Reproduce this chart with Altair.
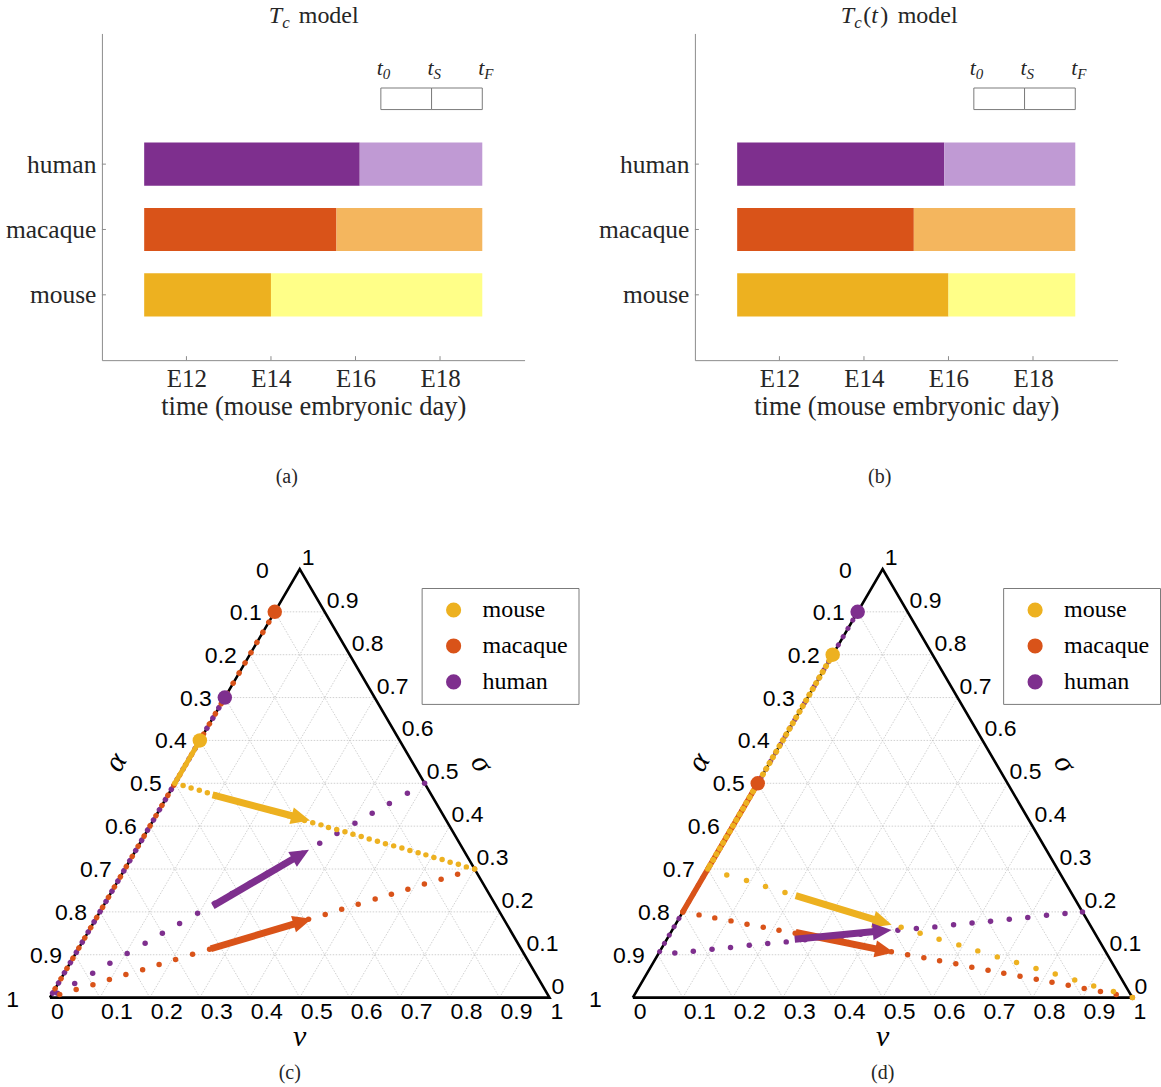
import altair as alt
import pandas as pd

SERIF = "Liberation Serif"
SANS = "Liberation Sans"
INK = "#262626"
AXIS_GREY = "#8c8c8c"
GRID_GREY = "#c4c4c4"

# ---------------- switch timing (panels a, b) ----------------
SPECIES = ["mouse", "macaque", "human"]
ROWS = [1, 2, 3]
DARK = ["#EDB120", "#D95319", "#7E2F8E"]
LIGHT = ["#FFFF88", "#F4B65E", "#C09AD4"]
T_START = 11.0
T_END = 19.0
SWITCH_TC = [14.0, 15.55, 16.1]
SWITCH_TCT = [16.0, 15.18, 15.9]
DAY_TICKS = [12, 14, 16, 18]
KEY_EDGES = [16.6, 17.8, 19.0]
KEY_SUBS = ["0", "S", "F"]

# ---------------- ternary trajectories (panels c, d) ----------------
# every point is (nu, sigma); alpha = 1 - nu - sigma
TRI_TICKS = [0, 0.1, 0.2, 0.3, 0.4, 0.5, 0.6, 0.7, 0.8, 0.9, 1]
TRI_LABELS = ["0", "0.1", "0.2", "0.3", "0.4", "0.5", "0.6", "0.7", "0.8", "0.9", "1"]
GRID_TICKS = [0.1, 0.2, 0.3, 0.4, 0.5, 0.6, 0.7, 0.8, 0.9]

# initial sigma (on the nu = 0 edge) and sigma where each path leaves that edge
C_START_SIGMA = [0.6, 0.9, 0.7]
C_TURN_SIGMA = [0.5, 0.0, 0.0]
D_START_SIGMA = [0.8, 0.5, 0.9]
D_TURN_SIGMA = [0.3, 0.2, 0.1]

C_MOUSE_NU = [0.000, 0.019, 0.038, 0.057, 0.076, 0.095, 0.114, 0.132, 0.151, 0.170,
              0.189, 0.208, 0.227, 0.246, 0.265, 0.284, 0.303, 0.322, 0.341, 0.359,
              0.378, 0.397, 0.416, 0.435, 0.454, 0.473, 0.492, 0.511, 0.530, 0.549,
              0.568, 0.586, 0.605, 0.624, 0.643, 0.662, 0.681, 0.700]
C_MOUSE_SIGMA = [0.500, 0.495, 0.489, 0.484, 0.478, 0.473, 0.467, 0.462, 0.457, 0.451,
                 0.446, 0.441, 0.435, 0.430, 0.424, 0.419, 0.413, 0.408, 0.403, 0.397,
                 0.392, 0.387, 0.381, 0.376, 0.370, 0.365, 0.359, 0.354, 0.349, 0.343,
                 0.338, 0.333, 0.327, 0.322, 0.316, 0.311, 0.305, 0.300]
C_MACAQUE_NU = [0.016, 0.043, 0.071, 0.098, 0.125, 0.153, 0.180, 0.207, 0.235, 0.263,
                0.290, 0.317, 0.344, 0.372, 0.399, 0.426, 0.454, 0.481, 0.508, 0.536,
                0.563, 0.590, 0.617, 0.645, 0.672, 0.700]
C_MACAQUE_SIGMA = [0.007, 0.019, 0.030, 0.042, 0.054, 0.065, 0.077, 0.089, 0.101, 0.113,
                   0.124, 0.136, 0.148, 0.159, 0.171, 0.183, 0.194, 0.206, 0.218, 0.230,
                   0.241, 0.253, 0.265, 0.276, 0.288, 0.300]
C_HUMAN_NU = [0.010, 0.033, 0.057, 0.080, 0.103, 0.127, 0.150, 0.173, 0.197, 0.220, 0.243,
              0.267, 0.290, 0.313, 0.337, 0.360, 0.383, 0.407, 0.430, 0.453, 0.477, 0.500]
C_HUMAN_SIGMA = [0.010, 0.033, 0.057, 0.080, 0.103, 0.127, 0.150, 0.173, 0.197, 0.220, 0.243,
                 0.267, 0.290, 0.313, 0.337, 0.360, 0.383, 0.407, 0.430, 0.453, 0.477, 0.500]

D_MOUSE_NU = [0.000, 0.045, 0.091, 0.136, 0.182, 0.227, 0.273, 0.318, 0.364, 0.409, 0.455,
              0.500, 0.545, 0.591, 0.636, 0.682, 0.727, 0.773, 0.818, 0.864, 0.909, 0.955, 1.000]
D_MOUSE_SIGMA = [0.300, 0.286, 0.273, 0.259, 0.245, 0.232, 0.218, 0.205, 0.191, 0.177, 0.164,
                 0.150, 0.136, 0.123, 0.109, 0.095, 0.082, 0.068, 0.055, 0.041, 0.027, 0.014, 0.000]
D_MACAQUE_NU = [0.000, 0.036, 0.071, 0.107, 0.143, 0.179, 0.214, 0.250, 0.286, 0.321,
                0.357, 0.393, 0.429, 0.464, 0.500, 0.536, 0.571, 0.607, 0.643, 0.679,
                0.714, 0.750, 0.786, 0.821, 0.857, 0.893, 0.929, 0.964, 1.000]
D_MACAQUE_SIGMA = [0.200, 0.193, 0.186, 0.179, 0.171, 0.164, 0.157, 0.150, 0.143, 0.136,
                   0.129, 0.121, 0.114, 0.107, 0.100, 0.093, 0.086, 0.079, 0.071, 0.064,
                   0.057, 0.050, 0.043, 0.036, 0.029, 0.021, 0.014, 0.007, 0.000]
D_HUMAN_NU = [0.032, 0.067, 0.102, 0.137, 0.172, 0.207, 0.242, 0.277, 0.312, 0.347, 0.382,
              0.417, 0.452, 0.487, 0.522, 0.557, 0.592, 0.627, 0.662, 0.697, 0.732, 0.767, 0.800]
D_HUMAN_SIGMA = [0.104, 0.108, 0.113, 0.117, 0.122, 0.126, 0.130, 0.135, 0.139, 0.143, 0.148,
                 0.152, 0.157, 0.161, 0.165, 0.170, 0.174, 0.178, 0.183, 0.187, 0.192, 0.196, 0.200]

# direction arrows, one per species (mouse, macaque, human)
C_ARROW_TAIL_NU = [0.089, 0.265, 0.219]
C_ARROW_TAIL_SIGMA = [0.473, 0.114, 0.214]
C_ARROW_TIP_NU = [0.314, 0.432, 0.346]
C_ARROW_TIP_SIGMA = [0.413, 0.184, 0.345]
D_ARROW_TAIL_NU = [0.207, 0.250, 0.256]
D_ARROW_TAIL_SIGMA = [0.238, 0.152, 0.136]
D_ARROW_TIP_NU = [0.433, 0.470, 0.439]
D_ARROW_TIP_SIGMA = [0.170, 0.105, 0.158]

# ---------------- layout ----------------
BAR_W, BAR_H = 423, 327
DAY_DOMAIN = [10, 20]
ROW_DOMAIN = [0, 5]
BAR_HALF = 0.33
KEY_ROW, KEY_HALF, KEY_TEXT_ROW = 4.0, 0.165, 4.36

TRI_W, TRI_H = 423, 471.9
PX_NU = 500.0
PX_SIGMA = 429.0
SIGMA_DOMAIN = [-0.05, 1.05]
C_X0 = 0.104
D_X0 = 0.1242
COL_GAP = 170.5
ROW_GAP = 187.55
HEAD_LEN = 19.0


def one(text):
    return pd.DataFrame({"s": [text]})


def piece(text, x, y, size, italic=False, align="left", baseline="alphabetic", font=SERIF, color=INK):
    return alt.Chart(one(text)).mark_text(
        align=align, baseline=baseline, font=font, fontSize=size,
        fontStyle="italic" if italic else "normal", color=color,
    ).encode(x=alt.value(x), y=alt.value(y), text="s:N")


def bar_panel(switch, title_bits, tag, anchor=False):
    seg = pd.DataFrame({
        "row": ROWS * 2,
        "x0": [T_START] * 3 + list(switch),
        "x1": list(switch) + [T_END] * 3,
        "fill": DARK + LIGHT,
    })
    xs = alt.Scale(domain=DAY_DOMAIN, nice=False, zero=False)
    ys = alt.Scale(domain=ROW_DOMAIN, nice=False, zero=False)
    names = "[''," + ",".join(f"'{s}'" for s in SPECIES) + "]"
    x_axis = alt.Axis(values=DAY_TICKS, labelExpr="'E' + datum.value",
                      title="time (mouse embryonic day)", ticks=False, tickSize=0, grid=False,
                      domainColor=AXIS_GREY, domainWidth=1, labelFlush=False,
                      labelFont=SERIF, labelFontSize=25, labelColor=INK, labelPadding=6,
                      titleFont=SERIF, titleFontSize=26.5, titleFontWeight="normal",
                      titleColor=INK, titlePadding=2)
    y_axis = alt.Axis(values=ROWS, labelExpr=f"{names}[datum.value]", title=None,
                      ticks=False, tickSize=0, grid=False, domainColor=AXIS_GREY, domainWidth=1,
                      labelFont=SERIF, labelFontSize=25.5, labelColor=INK, labelPadding=6)

    def X(f):
        return alt.X(f"{f}:Q", scale=xs, axis=x_axis)

    def Y(f):
        return alt.Y(f"{f}:Q", scale=ys, axis=y_axis)

    bars = alt.Chart(seg).transform_calculate(
        y0=f"datum.row - {BAR_HALF}", y1=f"datum.row + {BAR_HALF}"
    ).mark_rect().encode(
        x=X("x0"), x2=alt.X2("x1"), y=Y("y0"), y2=alt.Y2("y1"),
        color=alt.Color("fill:N", scale=None),
    )

    # inward tick marks
    ty = 4.0 * (ROW_DOMAIN[1] - ROW_DOMAIN[0]) / BAR_H
    tx = 4.0 * (DAY_DOMAIN[1] - DAY_DOMAIN[0]) / BAR_W
    xticks = alt.Chart(pd.DataFrame({"d": DAY_TICKS})).transform_calculate(
        a=str(ROW_DOMAIN[0]), b=str(ROW_DOMAIN[0] + ty)
    ).mark_rule(color=AXIS_GREY, strokeWidth=1).encode(x=X("d"), y=Y("a"), y2=alt.Y2("b"))
    yticks = alt.Chart(pd.DataFrame({"r": ROWS})).transform_calculate(
        a=str(DAY_DOMAIN[0]), b=str(DAY_DOMAIN[0] + tx)
    ).mark_rule(color=AXIS_GREY, strokeWidth=1).encode(y=Y("r"), x=X("a"), x2=alt.X2("b"))

    # t0 / tS / tF schematic
    key = pd.DataFrame({"a": KEY_EDGES[:-1], "b": KEY_EDGES[1:]})
    key_box = alt.Chart(key).transform_calculate(
        y0=f"{KEY_ROW - KEY_HALF}", y1=f"{KEY_ROW + KEY_HALF}"
    ).mark_rect(fill="white", stroke="#7a7a7a", strokeWidth=1).encode(
        x=X("a"), x2=alt.X2("b"), y=Y("y0"), y2=alt.Y2("y1"))
    kl = pd.DataFrame({"edge": KEY_EDGES, "sub": KEY_SUBS})
    key_t = alt.Chart(kl).transform_calculate(ky=str(KEY_TEXT_ROW)).mark_text(
        font=SERIF, fontSize=22, fontStyle="italic", align="right", baseline="alphabetic",
        dx=2, color=INK).encode(x=X("edge"), y=Y("ky"), text=alt.value("t"))
    key_s = alt.Chart(kl).transform_calculate(ky=str(KEY_TEXT_ROW)).mark_text(
        font=SERIF, fontSize=15, fontStyle="italic", align="left", baseline="alphabetic",
        dx=2, dy=4, color=INK).encode(x=X("edge"), y=Y("ky"), text="sub:N")

    layers = [bars, xticks, yticks, key_box, key_t, key_s]
    for text, x, y, size, italic in title_bits:
        layers.append(piece(text, x, y, size, italic=italic))
    layers.append(piece(tag, 185, 444, 20, align="center", baseline="middle"))
    if anchor:
        layers.append(alt.Chart(one("")).mark_rule(strokeOpacity=0, strokeWidth=1).encode(
            x=alt.value(-102), x2=alt.value(-101), y=alt.value(-33)))
    return alt.layer(*layers).properties(width=BAR_W, height=BAR_H)


EDGE_STYLE_C = {
    "human": dict(w=5.5, dash=[0.1, 11.7]),
    "macaque": dict(w=5.5, dash=[0.1, 11.7]),
    "mouse": dict(w=5.0, dash=None),
}
EDGE_STYLE_D = {
    "human": dict(w=5.0, dash=[0.1, 9.5]),
    "macaque": dict(w=5.5, dash=None),
    "mouse": dict(w=6.0, dash=[0.1, 6.5]),
}


def ternary_panel(x0, start_sigma, turn_sigma, traj, arrows, edge_style, legend_x, tag):
    xs = alt.Scale(domain=[x0, x0 + TRI_W / PX_NU], nice=False, zero=False)
    ys = alt.Scale(domain=SIGMA_DOMAIN, nice=False, zero=False)
    sp_scale = alt.Scale(domain=SPECIES, range=DARK)

    def X(f):
        return alt.X(f"{f}:Q", scale=xs, axis=None)

    def Y(f):
        return alt.Y(f"{f}:Q", scale=ys, axis=None)

    to_xy = dict(tx="datum.nu + datum.sigma / 2", ty="datum.sigma")
    layers = []

    # triangular grid: constant sigma, constant nu and constant alpha
    rows = []
    for g in GRID_TICKS:
        rows += [(0, g, 1 - g, g), (g, 0, g, 1 - g), (1 - g, 0, 0, 1 - g)]
    grid = pd.DataFrame(rows, columns=["n1", "s1", "n2", "s2"])
    layers.append(alt.Chart(grid).transform_calculate(
        xa="datum.n1 + datum.s1 / 2", ya="datum.s1",
        xb="datum.n2 + datum.s2 / 2", yb="datum.s2",
    ).mark_rule(color=GRID_GREY, strokeWidth=0.8, strokeDash=[1.5, 1.5]).encode(
        x=X("xa"), y=Y("ya"), x2=alt.X2("xb"), y2=alt.Y2("yb")))

    # frame
    frame = pd.DataFrame({"k": [0, 1, 2, 3], "nu": [0, 1, 0, 0], "sigma": [0, 0, 1, 0]})
    layers.append(alt.Chart(frame).transform_calculate(**to_xy).mark_line(
        color="black", strokeWidth=2.6, strokeJoin="miter").encode(
        x=X("tx"), y=Y("ty"), order=alt.Order("k:Q")))

    # portion of each path along the nu = 0 edge
    for sp in ["human", "macaque", "mouse"]:
        i = SPECIES.index(sp)
        st = edge_style[sp]
        seg = pd.DataFrame({"k": [0, 1], "nu": [0.0, 0.0], "sigma": [start_sigma[i], turn_sigma[i]]})
        kw = dict(color=DARK[i], strokeWidth=st["w"], strokeCap="round")
        if st["dash"]:
            kw["strokeDash"] = st["dash"]
        layers.append(alt.Chart(seg).transform_calculate(**to_xy).mark_line(**kw).encode(
            x=X("tx"), y=Y("ty"), order=alt.Order("k:Q")))

    # sampled points through the interior
    frames = []
    for sp in ["human", "macaque", "mouse"]:
        nu, sg = traj[sp]
        frames.append(pd.DataFrame({"col": DARK[SPECIES.index(sp)], "nu": nu, "sigma": sg}))
    pts = pd.concat(frames, ignore_index=True)
    layers.append(alt.Chart(pts).transform_calculate(**to_xy).mark_circle(
        size=30, opacity=1).encode(
        x=X("tx"), y=Y("ty"), color=alt.Color("col:N", scale=None)))

    # initial states (these carry the legend)
    legend = alt.Legend(title=None, orient="none", legendX=legend_x, legendY=40.5,
                        direction="vertical", fillColor="white", strokeColor="#7a7a7a",
                        padding=10, cornerRadius=0, symbolType="circle", symbolSize=230,
                        symbolStrokeWidth=0, symbolOffset=10, labelFont=SERIF,
                        labelFontSize=24, labelColor="black", labelOffset=17,
                        rowPadding=12, labelLimit=300)
    starts = pd.DataFrame({"species": SPECIES, "nu": [0.0] * 3, "sigma": start_sigma})
    layers.append(alt.Chart(starts).transform_calculate(**to_xy).mark_circle(
        size=210, opacity=1).encode(
        x=X("tx"), y=Y("ty"), color=alt.Color("species:N", scale=sp_scale, legend=legend)))

    # arrows
    tn, ts, hn, hs = arrows
    arr = pd.DataFrame({"col": DARK, "tn": tn, "ts": ts, "hn": hn, "hs": hs})
    base = alt.Chart(arr).transform_calculate(
        x_t="datum.tn + datum.ts / 2", y_t="datum.ts",
        x_h="datum.hn + datum.hs / 2", y_h="datum.hs",
    ).transform_calculate(
        dxp=f"(datum.x_h - datum.x_t) * {PX_NU}", dyp=f"(datum.y_h - datum.y_t) * {PX_SIGMA}",
    ).transform_calculate(
        fr=f"{HEAD_LEN - 2} / sqrt(datum.dxp * datum.dxp + datum.dyp * datum.dyp)",
        ang="(360 - atan2(datum.dyp, datum.dxp) * 180 / PI) % 360",
    ).transform_calculate(
        x_b="datum.x_h - (datum.x_h - datum.x_t) * datum.fr",
        y_b="datum.y_h - (datum.y_h - datum.y_t) * datum.fr",
    )
    col = alt.Color("col:N", scale=None)
    layers.append(base.mark_rule(strokeWidth=7, strokeCap="butt").encode(
        x=X("x_t"), y=Y("y_t"), x2=alt.X2("x_b"), y2=alt.Y2("y_b"), color=col))
    head_r = HEAD_LEN / 2
    layers.append(base.mark_point(shape="M0,0L-2,-0.9L-2,0.9Z", filled=True, opacity=1,
                                  strokeWidth=0, size=(2 * head_r) ** 2).encode(
        x=X("x_h"), y=Y("y_h"), angle=alt.Angle("ang:Q", scale=None), color=col))

    # tick labels on the three edges
    ticks = pd.DataFrame({"v": TRI_TICKS, "lab": TRI_LABELS})

    def labels(nu_e, sg_e, flt=None, **mk):
        c = alt.Chart(ticks).transform_calculate(nu=nu_e, sigma=sg_e).transform_calculate(**to_xy)
        if flt:
            c = c.transform_filter(flt)
        return c.mark_text(font=SANS, fontSize=23, color="black", baseline="middle", **mk).encode(
            x=X("tx"), y=Y("ty"), text="lab:N")

    layers.append(labels("datum.v", "0", align="left", dx=1, dy=14))
    layers.append(labels("0", "1 - datum.v", "datum.v > 0 && datum.v < 1", align="right", dx=-13, dy=1))
    layers.append(labels("0", "1 - datum.v", "datum.v == 0 || datum.v == 1", align="right", dx=-31, dy=2))
    layers.append(labels("1 - datum.v", "datum.v", align="left", dx=2, dy=-11))

    # axis names
    def axis_name(sym, nu, sg, ox, oy, angle):
        return alt.Chart(one(sym)).transform_calculate(
            tx=f"{nu + sg / 2} + {ox / PX_NU}", ty=f"{sg} - {oy / PX_SIGMA}"
        ).mark_text(font=SERIF, fontSize=30, fontStyle="italic", color="black",
                    align="center", baseline="middle", angle=angle).encode(
            x=X("tx"), y=Y("ty"), text="s:N")

    layers.append(axis_name("α", 0.0, 0.5, -59, -21, 300))
    layers.append(axis_name("σ", 0.5, 0.5, 57, -20, 60))
    layers.append(axis_name("ν", 0.5, 0.0, 0, 39, 0))

    layers.append(piece(tag, 188, 525.5, 20, align="center", baseline="middle"))
    return alt.layer(*layers).properties(width=TRI_W, height=TRI_H)


panel_a = bar_panel(
    SWITCH_TC,
    [("T", 167, -10, 24, True), ("c", 180.5, -5, 17, True), ("model", 197, -10, 24, False)],
    "(a)", anchor=True)
panel_b = bar_panel(
    SWITCH_TCT,
    [("T", 146, -10, 24, True), ("c", 159.5, -5, 17, True), ("(", 168.5, -10, 24, False),
     ("t", 176.5, -10, 24, True), (")", 185.5, -10, 24, False), ("model", 203, -10, 24, False)],
    "(b)")

panel_c = ternary_panel(
    C_X0, C_START_SIGMA, C_TURN_SIGMA,
    {"mouse": (C_MOUSE_NU, C_MOUSE_SIGMA), "macaque": (C_MACAQUE_NU, C_MACAQUE_SIGMA),
     "human": (C_HUMAN_NU, C_HUMAN_SIGMA)},
    (C_ARROW_TAIL_NU, C_ARROW_TAIL_SIGMA, C_ARROW_TIP_NU, C_ARROW_TIP_SIGMA),
    EDGE_STYLE_C, 320, "(c)")
panel_d = ternary_panel(
    D_X0, D_START_SIGMA, D_TURN_SIGMA,
    {"mouse": (D_MOUSE_NU, D_MOUSE_SIGMA), "macaque": (D_MACAQUE_NU, D_MACAQUE_SIGMA),
     "human": (D_HUMAN_NU, D_HUMAN_SIGMA)},
    (D_ARROW_TAIL_NU, D_ARROW_TAIL_SIGMA, D_ARROW_TIP_NU, D_ARROW_TIP_SIGMA),
    EDGE_STYLE_D, 308.5, "(d)")

chart = alt.concat(
    panel_a, panel_b, panel_c, panel_d,
    columns=2, spacing={"row": ROW_GAP, "column": COL_GAP}, bounds="flush",
).resolve_scale(color="independent").resolve_legend(color="independent").properties(
    padding=0, background="white"
).configure_view(strokeWidth=0)

chart.save("out.html", embed_options={"renderer": "svg", "actions": False})
